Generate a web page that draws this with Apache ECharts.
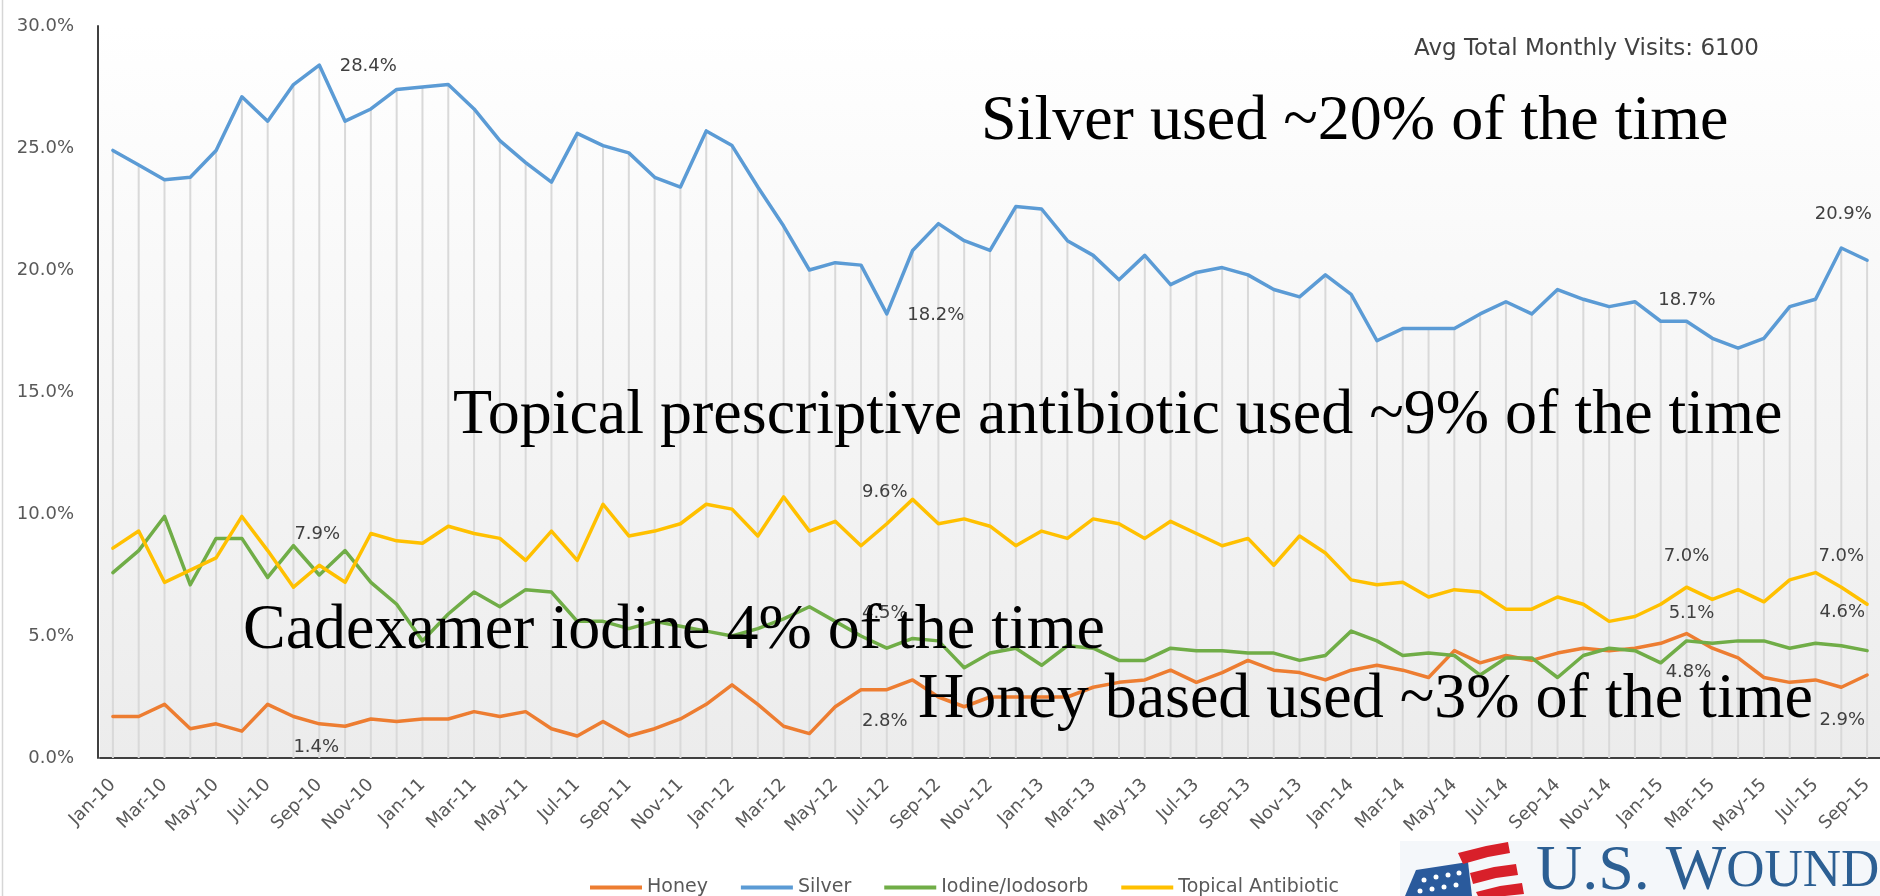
<!DOCTYPE html>
<html>
<head>
<meta charset="utf-8">
<script src="https://cdn.jsdelivr.net/npm/echarts@6/dist/echarts.min.js"></script>
<style>
  html, body { margin: 0; padding: 0; background: #ffffff; }
  #chart { width: 1880px; height: 896px; }
</style>
</head>
<body>
<div id="chart"></div>
<script>
// Monthly categories, Jan-10 through Sep-15
const months = [
  'Jan-10','Feb-10','Mar-10','Apr-10','May-10','Jun-10','Jul-10','Aug-10','Sep-10','Oct-10','Nov-10','Dec-10',
  'Jan-11','Feb-11','Mar-11','Apr-11','May-11','Jun-11','Jul-11','Aug-11','Sep-11','Oct-11','Nov-11','Dec-11',
  'Jan-12','Feb-12','Mar-12','Apr-12','May-12','Jun-12','Jul-12','Aug-12','Sep-12','Oct-12','Nov-12','Dec-12',
  'Jan-13','Feb-13','Mar-13','Apr-13','May-13','Jun-13','Jul-13','Aug-13','Sep-13','Oct-13','Nov-13','Dec-13',
  'Jan-14','Feb-14','Mar-14','Apr-14','May-14','Jun-14','Jul-14','Aug-14','Sep-14','Oct-14','Nov-14','Dec-14',
  'Jan-15','Feb-15','Mar-15','Apr-15','May-15','Jun-15','Jul-15','Aug-15','Sep-15'
];

// Share of monthly visits (%) per dressing type
const honey = [
  1.7, 1.7, 2.2, 1.2, 1.4, 1.1, 2.2, 1.7, 1.4, 1.3, 1.6, 1.5,
  1.6, 1.6, 1.9, 1.7, 1.9, 1.2, 0.9, 1.5, 0.9, 1.2, 1.6, 2.2,
  3.0, 2.2, 1.3, 1.0, 2.1, 2.8, 2.8, 3.2, 2.5, 2.1, 2.5, 2.5,
  2.5, 2.5, 2.9, 3.1, 3.2, 3.6, 3.1, 3.5, 4.0, 3.6, 3.5, 3.2,
  3.6, 3.8, 3.6, 3.3, 4.4, 3.9, 4.2, 4.0, 4.3, 4.5, 4.4, 4.5,
  4.7, 5.1, 4.5, 4.1, 3.3, 3.1, 3.2, 2.9, 3.4
];
const silver = [
  24.9, 24.3, 23.7, 23.8, 24.9, 27.1, 26.1, 27.6, 28.4, 26.1, 26.6, 27.4,
  27.5, 27.6, 26.6, 25.3, 24.4, 23.6, 25.6, 25.1, 24.8, 23.8, 23.4, 25.7,
  25.1, 23.4, 21.8, 20.0, 20.3, 20.2, 18.2, 20.8, 21.9, 21.2, 20.8, 22.6,
  22.5, 21.2, 20.6, 19.6, 20.6, 19.4, 19.9, 20.1, 19.8, 19.2, 18.9, 19.8,
  19.0, 17.1, 17.6, 17.6, 17.6, 18.2, 18.7, 18.2, 19.2, 18.8, 18.5, 18.7,
  17.9, 17.9, 17.2, 16.8, 17.2, 18.5, 18.8, 20.9, 20.4
];
const iodine = [
  7.6, 8.5, 9.9, 7.1, 9.0, 9.0, 7.4, 8.7, 7.5, 8.5, 7.2, 6.3,
  4.8, 5.9, 6.8, 6.2, 6.9, 6.8, 5.6, 5.6, 5.3, 5.6, 5.4, 5.2,
  5.0, 5.3, 5.7, 6.2, 5.6, 5.0, 4.5, 4.9, 4.8, 3.7, 4.3, 4.5,
  3.8, 4.6, 4.5, 4.0, 4.0, 4.5, 4.4, 4.4, 4.3, 4.3, 4.0, 4.2,
  5.2, 4.8, 4.2, 4.3, 4.2, 3.4, 4.1, 4.1, 3.3, 4.2, 4.5, 4.4,
  3.9, 4.8, 4.7, 4.8, 4.8, 4.5, 4.7, 4.6, 4.4
];
const topical = [
  8.6, 9.3, 7.2, 7.7, 8.2, 9.9, 8.5, 7.0, 7.9, 7.2, 9.2, 8.9,
  8.8, 9.5, 9.2, 9.0, 8.1, 9.3, 8.1, 10.4, 9.1, 9.3, 9.6, 10.4,
  10.2, 9.1, 10.7, 9.3, 9.7, 8.7, 9.6, 10.6, 9.6, 9.8, 9.5, 8.7,
  9.3, 9.0, 9.8, 9.6, 9.0, 9.7, 9.2, 8.7, 9.0, 7.9, 9.1, 8.4,
  7.3, 7.1, 7.2, 6.6, 6.9, 6.8, 6.1, 6.1, 6.6, 6.3, 5.6, 5.8,
  6.3, 7.0, 6.5, 6.9, 6.4, 7.3, 7.6, 7.0, 6.3
];

const seriesNames = ['Honey', 'Silver', 'Iodine/Iodosorb', 'Topical Antibiotic'];
const seriesColors = ['#ED7D31', '#5B9BD5', '#70AD47', '#FFC000'];

// Months that carry a value label, per series
const honeyLabelAt = [8, 30, 61, 67];
const silverLabelAt = [8, 30, 59, 67];
const iodineLabelAt = [30, 61, 67];
const topicalLabelAt = [8, 30, 61, 67];

const headline = 'Avg Total Monthly Visits: 6100';
const notes = [
  'Silver used ~20% of the time',
  'Topical prescriptive antibiotic used ~9% of the time',
  'Cadexamer iodine 4% of the time',
  'Honey based used ~3% of the time'
];

const SANS = 'DejaVu Sans';
const SERIF = '"Liberation Serif", "Times New Roman", serif';

// Value-label offsets (label centre relative to its point), keyed by month index
const labelOffsets = {
  Honey: { 8: [-3, 23], 30: [-2, 32], 61: [5, -20], 67: [1, 33] },
  Silver: { 8: [49, 1], 30: [49, 1], 59: [52, -1], 67: [2, -34] },
  'Iodine/Iodosorb': { 30: [-2, -35], 61: [2, 31], 67: [1, -33] },
  'Topical Antibiotic': { 8: [-2, -31], 30: [-2, -31], 61: [0, -31], 67: [0, -31] }
};

function valueMarks(name, values, indices) {
  return {
    symbol: 'circle',
    symbolSize: 0,
    silent: true,
    animation: false,
    label: {
      show: true,
      position: 'inside',
      fontFamily: SANS,
      fontSize: 18,
      color: '#404040',
      formatter: p => p.value.toFixed(1) + '%'
    },
    data: indices.map(i => ({
      coord: [months[i], values[i]],
      value: values[i],
      label: { offset: labelOffsets[name][i] }
    }))
  };
}

function lineSeries(name, values, color, labelAt) {
  return {
    name: name,
    type: 'line',
    data: values,
    symbol: 'none',
    smooth: false,
    z: 3,
    lineStyle: { color: color, width: 3.5, cap: 'round', join: 'round' },
    itemStyle: { color: color },
    silent: true,
    markPoint: valueMarks(name, values, labelAt)
  };
}

const chart = echarts.init(document.getElementById('chart'), null, { renderer: 'canvas' });

const option = {
  animation: false,
  backgroundColor: '#ffffff',
  grid: {
    left: 100,
    top: 26,
    width: 1783,
    height: 732,
    show: true,
    borderWidth: 0,
    backgroundColor: new echarts.graphic.LinearGradient(0, 0, 0, 1, [
      { offset: 0, color: '#ffffff' },
      { offset: 1, color: '#ececec' }
    ])
  },
  legend: {
    data: seriesNames,
    left: 585,
    top: 873,
    icon: 'rect',
    itemWidth: 52,
    itemHeight: 4,
    itemGap: 33,
    textStyle: { fontFamily: SANS, fontSize: 19, color: '#595959' }
  },
  xAxis: {
    type: 'category',
    data: months,
    boundaryGap: true,
    axisLine: { show: true, lineStyle: { color: '#404040', width: 2 } },
    axisTick: { show: false },
    splitLine: { show: false },
    axisLabel: {
      interval: 1,
      rotate: 45,
      margin: 24,
      fontFamily: SANS,
      fontSize: 18,
      color: '#595959'
    }
  },
  yAxis: {
    type: 'value',
    min: 0,
    max: 30,
    interval: 5,
    offset: 2,
    axisLine: { show: true, lineStyle: { color: '#404040', width: 2 } },
    axisTick: { show: false },
    splitLine: { show: false },
    axisLabel: {
      margin: 24,
      fontFamily: SANS,
      fontSize: 18,
      color: '#595959',
      formatter: v => v.toFixed(1) + '%'
    }
  },
  series: [
    // drop lines from the Silver series down to the baseline
    {
      name: 'drop',
      type: 'bar',
      data: silver,
      barWidth: 2,
      silent: true,
      z: 1,
      itemStyle: { color: '#d9d9d9' }
    },
    lineSeries('Honey', honey, seriesColors[0], honeyLabelAt),
    lineSeries('Silver', silver, seriesColors[1], silverLabelAt),
    lineSeries('Iodine/Iodosorb', iodine, seriesColors[2], iodineLabelAt),
    lineSeries('Topical Antibiotic', topical, seriesColors[3], topicalLabelAt)
  ],
  graphic: [
    { type: 'line', z: 50, shape: { x1: 2.5, y1: 0, x2: 2.5, y2: 896 }, style: { stroke: '#d6d6d6', lineWidth: 1.5 } },
    {
      type: 'text', z: 100, x: 1414, y: 49,
      style: { text: headline, font: '23px ' + SANS, fill: '#404040', verticalAlign: 'middle' }
    },
    {
      type: 'text', z: 100, x: 981, y: 122,
      style: { text: notes[0], font: '64px ' + SERIF, fill: '#000000', verticalAlign: 'middle' }
    },
    {
      type: 'text', z: 100, x: 453, y: 416,
      style: { text: notes[1], font: '64px ' + SERIF, fill: '#000000', verticalAlign: 'middle' }
    },
    {
      type: 'text', z: 100, x: 243, y: 631,
      style: { text: notes[2], font: '64px ' + SERIF, fill: '#000000', verticalAlign: 'middle' }
    },
    {
      type: 'text', z: 100, x: 918, y: 700,
      style: { text: notes[3], font: '64px ' + SERIF, fill: '#000000', verticalAlign: 'middle' }
    },
    // logo block, bottom right
    {
      type: 'group', z: 100,
      children: [
        { type: 'rect', shape: { x: 1400, y: 841, width: 480, height: 55 }, style: { fill: '#f4f7fa' } },
        { type: 'polygon', shape: { points: [[1405, 896], [1416, 870], [1468, 862], [1472, 896]] }, style: { fill: '#2a5a9c' } },
        { type: 'polygon', shape: { points: [[1458, 853], [1486, 846], [1508, 842], [1510, 853], [1488, 857], [1463, 864]] }, style: { fill: '#d8202a' } },
        { type: 'polygon', shape: { points: [[1470, 873], [1494, 867], [1516, 864], [1518, 875], [1496, 878], [1473, 884]] }, style: { fill: '#d8202a' } },
        { type: 'polygon', shape: { points: [[1476, 892], [1500, 886], [1522, 883], [1524, 894], [1505, 896], [1478, 896]] }, style: { fill: '#d8202a' } },
        { type: 'circle', shape: { cx: 1424, cy: 880, r: 2.5 }, style: { fill: '#ffffff' } },
        { type: 'circle', shape: { cx: 1436, cy: 877, r: 2.5 }, style: { fill: '#ffffff' } },
        { type: 'circle', shape: { cx: 1448, cy: 875, r: 2.5 }, style: { fill: '#ffffff' } },
        { type: 'circle', shape: { cx: 1459, cy: 873, r: 2.5 }, style: { fill: '#ffffff' } },
        { type: 'circle', shape: { cx: 1420, cy: 891, r: 2.5 }, style: { fill: '#ffffff' } },
        { type: 'circle', shape: { cx: 1432, cy: 889, r: 2.5 }, style: { fill: '#ffffff' } },
        { type: 'circle', shape: { cx: 1444, cy: 887, r: 2.5 }, style: { fill: '#ffffff' } },
        { type: 'circle', shape: { cx: 1456, cy: 885, r: 2.5 }, style: { fill: '#ffffff' } },
        {
          type: 'text', x: 1536, y: 872,
          style: {
            text: '{a|U.S. W}{b|OUND}',
            verticalAlign: 'middle',
            rich: {
              a: { font: '64px ' + SERIF, fill: '#2c5f93' },
              b: { font: '53px ' + SERIF, fill: '#2c5f93' }
            }
          }
        }
      ]
    }
  ]
};

chart.setOption(option);
</script>
</body>
</html>
